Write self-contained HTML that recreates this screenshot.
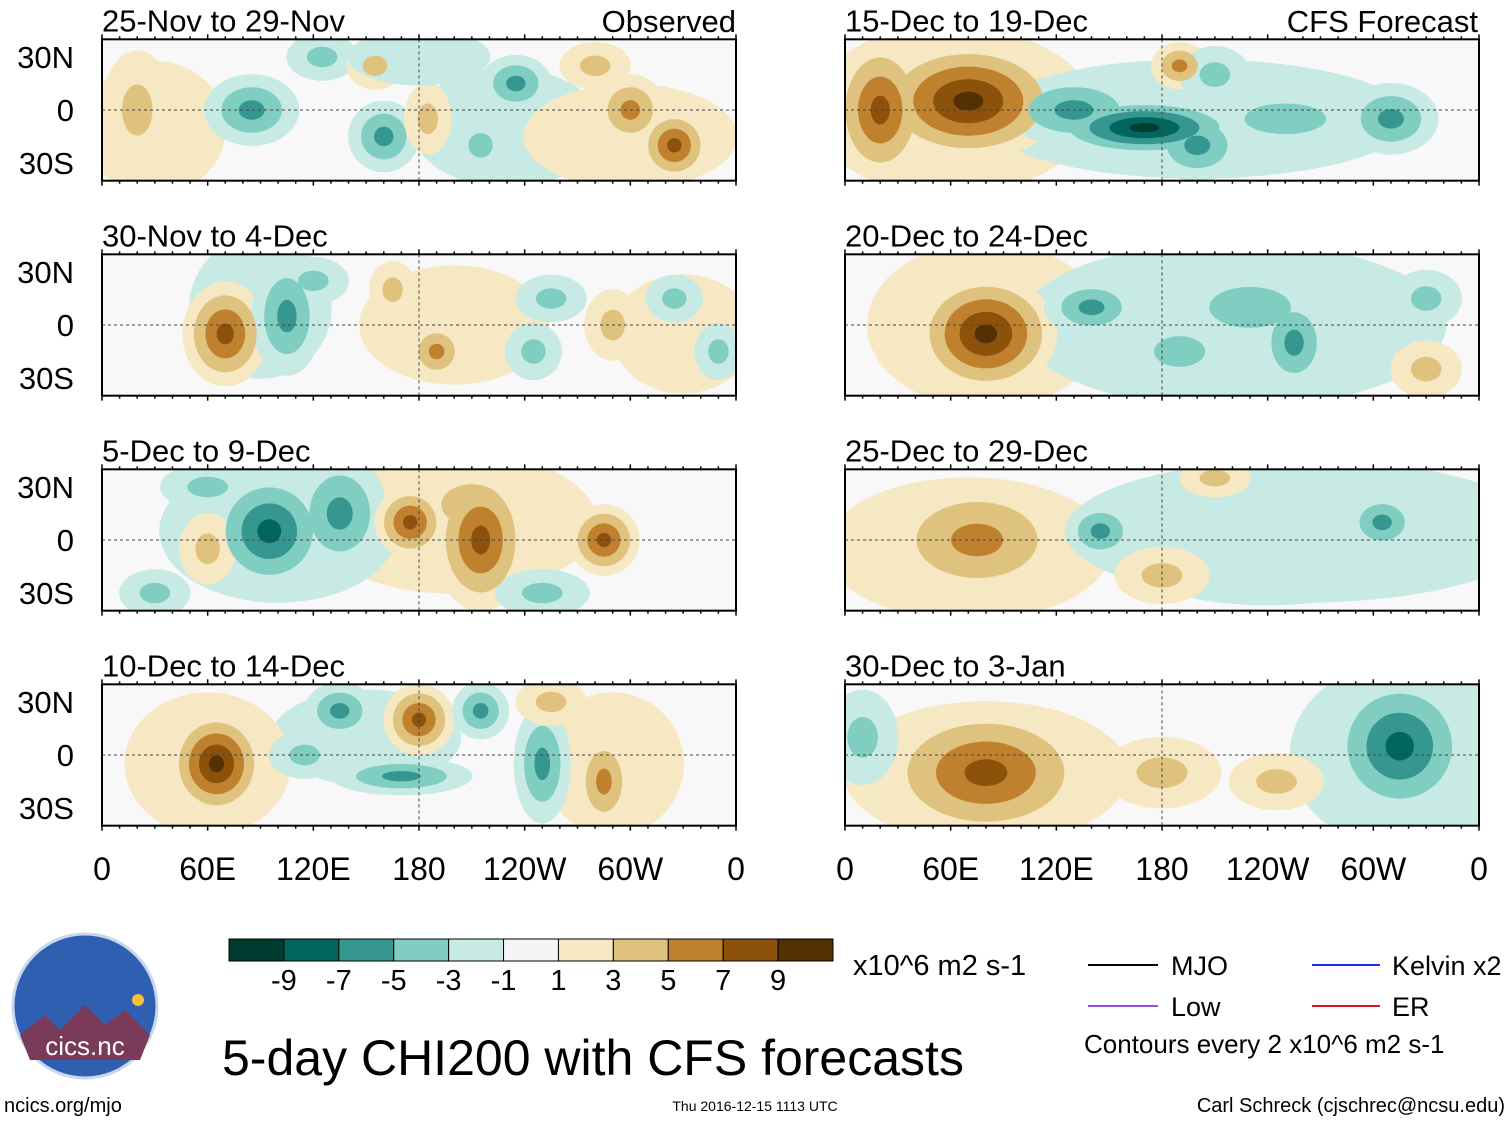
<!DOCTYPE html>
<html><head><meta charset="utf-8">
<style>
body{margin:0;background:#fff;font-family:"Liberation Sans",sans-serif;}
#wrap{position:relative;width:1510px;height:1121px;overflow:hidden;}
</style></head>
<body>
<div id="wrap">
<svg id="chart" width="1510" height="1121" xmlns="http://www.w3.org/2000/svg"></svg>
</div>
<script>
const panelTitles=["25-Nov to 29-Nov","30-Nov to 4-Dec","5-Dec to 9-Dec","10-Dec to 14-Dec","15-Dec to 19-Dec","20-Dec to 24-Dec","25-Dec to 29-Dec","30-Dec to 3-Jan"];
// blobs: [lon, lat, value, rxDeg, ryDeg]
const blobsP1=[[230,-10,-1,40,25],[300,-15,1,45,22],[30,-10,1,30,28],[20,0,3,15,25],[85,0,-5,20,15],[160,-15,-5,15,15],[125,30,-3,15,10],[155,25,3,12,10],[185,-5,3,10,15],[235,15,-5,15,12],[215,-20,-3,12,12],[300,0,5,15,15],[325,-20,7,15,15],[280,25,3,15,10],[180,30,-1,30,12]];
const blobsP2=[[200,0,1,40,25],[330,-5,1,30,25],[90,10,-1,30,30],[70,-5,7,18,22],[105,5,-5,15,25],[120,25,-3,15,10],[190,-15,5,12,12],[165,20,3,10,12],[255,15,-3,15,10],[325,15,-3,12,10],[290,0,3,12,15],[350,-15,-3,10,12],[245,-15,-3,12,12]];
const blobsP3=[[200,10,1,60,30],[100,5,-1,50,30],[95,5,-7,25,25],[135,15,-5,20,25],[175,10,7,15,15],[215,0,7,20,30],[210,20,3,30,20],[285,0,7,15,15],[60,30,-3,20,10],[60,-5,3,12,15],[250,-30,-3,20,10],[30,-30,-3,15,10]];
const blobsP4=[[290,-5,1,30,30],[150,10,-1,40,20],[60,-5,1,35,30],[65,-5,9,20,22],[135,25,-5,15,12],[180,20,7,15,15],[215,25,-5,12,12],[170,-12,-5,30,8],[250,-5,-5,12,25],[285,-15,5,12,20],[255,30,3,15,10],[115,0,-3,15,10]];
const blobsP5=[[60,0,1,60,35],[200,-5,-1,90,25],[70,5,9,40,25],[20,0,7,20,30],[170,-10,-9,40,12],[130,0,-5,30,15],[200,-20,-5,20,15],[310,-5,-5,20,15],[190,25,5,12,10],[210,20,-3,15,12],[250,-5,-3,40,15]];
const blobsP6=[[80,0,1,50,35],[220,0,-1,90,35],[80,-5,9,30,25],[140,10,-5,20,12],[190,-15,-3,25,15],[255,-10,-5,15,20],[230,10,-3,40,20],[330,-25,3,15,12],[330,15,-3,15,12]];
const blobsP7=[[70,-5,1,60,30],[260,5,-1,100,30],[75,0,5,40,25],[145,5,-5,15,12],[210,35,3,15,8],[305,10,-5,15,12],[240,-10,-1,60,20],[180,-20,3,20,12]];
const blobsP8=[[80,-10,1,60,30],[320,0,-1,50,40],[80,-10,7,45,28],[315,5,-7,30,30],[180,-10,3,25,15],[10,10,-3,15,20],[245,-15,3,20,12]];
const panelBlobs=[blobsP1,blobsP2,blobsP3,blobsP4,blobsP5,blobsP6,blobsP7,blobsP8];
const cbLabels=["-9","-7","-5","-3","-1","1","3","5","7","9"];
const cbColors=["#003c30","#01665e","#35978f","#80cdc1","#c7eae5","#f5f5f5","#f6e8c3","#dfc27d","#bf812d","#8c510a","#543005"];
const xTickLabels=["0","60E","120E","180","120W","60W","0"];
const xTickLons=[0,60,120,180,240,300,360];
const yTickLabels=["30N","0","30S"];
const yTickLats=[30,0,-30];

const NS="http://www.w3.org/2000/svg";
const svg=document.getElementById('chart');
function mk(tag,attrs,parent){const e=document.createElementNS(NS,tag);for(const k in attrs)e.setAttribute(k,attrs[k]);(parent||svg).appendChild(e);return e;}
const colX=[102,845], rowY=[110,325,540,755];
const PW=634, pxDeg=PW/360, pyDeg=1.767, SCALE=1.35;
function levelColor(L){const i=L>0?5+(L+1)/2:5-(-L+1)/2;return cbColors[i];}

panelBlobs.forEach((blobs,p)=>{
  const col=p<4?0:1,row=p%4;
  const x0=colX[col],yc=rowY[row];
  const xs=lon=>x0+lon*pxDeg, ys=lat=>yc-lat*pyDeg;
  const top=ys(40),bot=ys(-40);
  const g=mk('g',{},svg);
  
  
  mk('clipPath',{id:'cp'+p},g);
  mk('rect',{x:x0,y:top,width:PW,height:bot-top},document.getElementById('cp'+p));
  mk('rect',{x:x0,y:top,width:PW,height:bot-top,fill:'#f8f8f8'},g);
  const fg=mk('g',{'clip-path':'url(#cp'+p+')'},g);
  const shapes=[];
  blobs.forEach(b=>{const a=Math.abs(b[2]),s=Math.sign(b[2]);
    for(let L=1;L<=a;L+=2){const f=(a-L+1.5)/(a+0.5);shapes.push([L,b,f,s]);}});
  shapes.sort((u,v)=>u[0]-v[0]);
  shapes.forEach(([L,b,f,s])=>{
    const el=mk('ellipse',{cx:xs(b[0]),cy:ys(b[1]),rx:b[3]*pxDeg*f*SCALE,ry:b[4]*pyDeg*f*SCALE,fill:levelColor(s*L),stroke:'none'},fg);
    
    
  });
  mk('line',{x1:x0,x2:x0+PW,y1:yc,y2:yc,stroke:'#444','stroke-dasharray':'3,3','stroke-width':1},g);
  mk('line',{x1:xs(180),x2:xs(180),y1:top,y2:bot,stroke:'#444','stroke-dasharray':'3,3','stroke-width':1},g);
  mk('rect',{x:x0,y:top,width:PW,height:bot-top,fill:'none',stroke:'#000','stroke-width':2},g);
  for(let lon=0;lon<=360;lon+=10){const big=lon%60==0;
    mk('line',{x1:xs(lon),x2:xs(lon),y1:top,y2:top-(big?5:3),stroke:'#000','stroke-width':1.5},g);
    mk('line',{x1:xs(lon),x2:xs(lon),y1:bot,y2:bot+(big?5:3),stroke:'#000','stroke-width':1.5},g);}
  if(col==0){yTickLats.forEach((lat,i)=>{
    const t=mk('text',{x:x0-28,y:ys(lat)+11,'font-size':31,'text-anchor':'end',fill:'#000'},g);t.textContent=yTickLabels[i];
    });}
  const tt=mk('text',{x:x0,y:top-8,'font-size':31,fill:'#000'},g);tt.textContent=panelTitles[p];
  
  if(row==3){xTickLons.forEach((lon,i)=>{const t=mk('text',{x:xs(lon),y:880,'font-size':32,'text-anchor':'middle'},g);t.textContent=xTickLabels[i];
    });}
});
function txt(x,y,s,str,name,anchor){const t=mk('text',{x:x,y:y,'font-size':s,'text-anchor':anchor||'start',fill:'#000'});t.textContent=str;return t;}
txt(736,32,31,"Observed","observed-label","end");
txt(1478,32,31,"CFS Forecast","forecast-label","end");
const cbx=229,cbw=604/11;
cbColors.forEach((c,i)=>{const r=mk('rect',{x:cbx+i*cbw,y:939,width:cbw,height:22,fill:c,stroke:'#000','stroke-width':1});
  });
cbLabels.forEach((l,i)=>txt(cbx+(i+1)*cbw,990,29,l,'colorbar-label','middle'));
txt(853,975,29,"x10^6 m2 s-1","colorbar-units");
mk('line',{x1:1088,x2:1158,y1:965,y2:965,stroke:'#000','stroke-width':2});
txt(1171,975,27,"MJO","legend-mjo");
mk('line',{x1:1088,x2:1158,y1:1006,y2:1006,stroke:'#9b4fd8','stroke-width':2});
txt(1171,1016,27,"Low","legend-low");
mk('line',{x1:1312,x2:1380,y1:965,y2:965,stroke:'#1a2fe8','stroke-width':2});
txt(1392,975,27,"Kelvin x2","legend-kelvin");
mk('line',{x1:1312,x2:1380,y1:1006,y2:1006,stroke:'#d8171c','stroke-width':2});
txt(1392,1016,27,"ER","legend-er");
txt(1084,1053,26,"Contours every 2 x10^6 m2 s-1","contour-note");
txt(222,1075,50,"5-day CHI200 with CFS forecasts","main-title");
txt(4,1112,20,"ncics.org/mjo","source-url");
txt(755,1111,14,"Thu 2016-12-15 1113 UTC","timestamp","middle");
txt(1505,1112,20,"Carl Schreck (cjschrec@ncsu.edu)","author","end");
const lg=mk('g',{});
mk('circle',{cx:85,cy:1006,r:72,fill:'#2f5fb0',stroke:'#c9d6ee','stroke-width':3},lg);
mk('path',{d:'M20,1035 L45,1015 L60,1030 L85,1005 L105,1025 L125,1010 L150,1035 L140,1060 L30,1060 Z',fill:'#7a3a5a'},lg);
mk('circle',{cx:138,cy:1000,r:6,fill:'#f6c23a'},lg);
const lt=mk('text',{x:85,y:1055,'font-size':26,'text-anchor':'middle',fill:'#fff'},lg);lt.textContent="cics.nc";
</script>
</body></html>
